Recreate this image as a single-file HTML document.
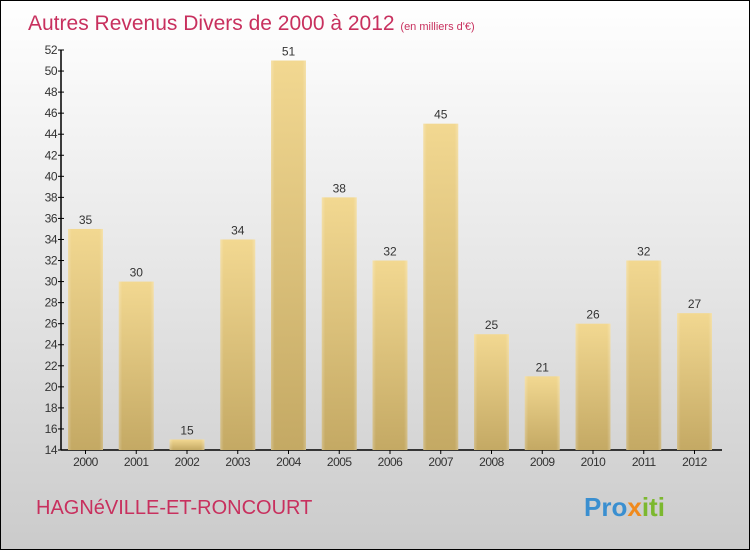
<!DOCTYPE html>
<html><head><meta charset="utf-8"><style>
body{margin:0;width:750px;height:550px;overflow:hidden;font-family:"Liberation Sans",sans-serif}
#wrap{position:absolute;left:0;top:0;width:748px;height:548px;border:1px solid #000;background:linear-gradient(#ffffff,#e6e6e6 50%,#cbcbcb)}
</style></head><body>
<div id="wrap">
<svg id="chart" width="748" height="548">
<defs>
<linearGradient id="bg" x1="0" y1="0" x2="0" y2="1"><stop offset="0" stop-color="#f2d891"/><stop offset="1" stop-color="#c4a964"/></linearGradient>
<linearGradient id="bh" x1="0" y1="0" x2="1" y2="0"><stop offset="0" stop-color="#fff" stop-opacity="0.25"/><stop offset="0.1" stop-color="#fff" stop-opacity="0"/><stop offset="0.9" stop-color="#fff" stop-opacity="0"/><stop offset="1" stop-color="#fff" stop-opacity="0.25"/></linearGradient>
</defs>
<text x="27" y="29" font-size="21" fill="#c8305e">Autres Revenus Divers de 2000 à 2012 <tspan font-size="11">(en milliers d'€)</tspan></text>
<text x="35" y="513" font-size="20" fill="#c8305e">HAGNéVILLE-ET-RONCOURT</text>
<text x="583" y="515" font-size="26" font-weight="bold"><tspan fill="#3a8fd0">Pro</tspan><tspan fill="#f08a1c">x</tspan><tspan fill="#7cb82f">iti</tspan></text>
<g id="axes"></g><g id="bars"></g>
</svg></div>
<script>
const years=["2000","2001","2002","2003","2004","2005","2006","2007","2008","2009","2010","2011","2012"];
const values=[35,30,15,34,51,38,32,45,25,21,26,32,27];
const yTicks=[14,16,18,20,22,24,26,28,30,32,34,36,38,40,42,44,46,48,50,52];
const NS="http://www.w3.org/2000/svg";
const y0=449,y1=49,vmin=14,vmax=52;
function yS(v){return y0-(v-vmin)/(vmax-vmin)*(y0-y1);}
function xS(i){return 84.5+i*50.75;}
function mk(t,a,p){const e=document.createElementNS(NS,t);for(const k in a)e.setAttribute(k,a[k]);p.appendChild(e);return e;}
const ax=document.getElementById('axes'),bars=document.getElementById('bars');
const yl=mk('line',{x1:60,y1:y1,x2:60,y2:y0,stroke:'#000','stroke-width':1.5},ax);


const xl=mk('line',{x1:60,y1:y0,x2:721,y2:y0,stroke:'#000','stroke-width':1.5},ax);


yTicks.forEach(v=>{
  const y=yS(v);
  mk('line',{x1:57,y1:y,x2:63,y2:y,stroke:'#000'},ax);
  const t=mk('text',{x:56,y:y+4,'text-anchor':'end','font-size':12,fill:'#333','letter-spacing':'-0.5'},ax);
  t.textContent=v;
  
  
});
years.forEach((yr,i)=>{
  const x=xS(i),v=values[i],top=yS(v);
  const r=mk('rect',{x:x-17.5,y:top,width:35,height:y0-top,fill:'url(#bg)'},bars);
  
  
  mk('rect',{x:x-17.5,y:top,width:35,height:y0-top,fill:'url(#bh)'},bars);
  mk('line',{x1:x,y1:y0,x2:x,y2:y0+4,stroke:'#000'},ax);
  const l=mk('text',{x:x,y:top-5,'text-anchor':'middle','font-size':12,fill:'#333'},bars);
  l.textContent=v;
  
  
  const t=mk('text',{x:x,y:y0+16,'text-anchor':'middle','font-size':12,fill:'#333','letter-spacing':'-0.5'},ax);
  t.textContent=yr;
  
  
});
</script>
</body></html>
